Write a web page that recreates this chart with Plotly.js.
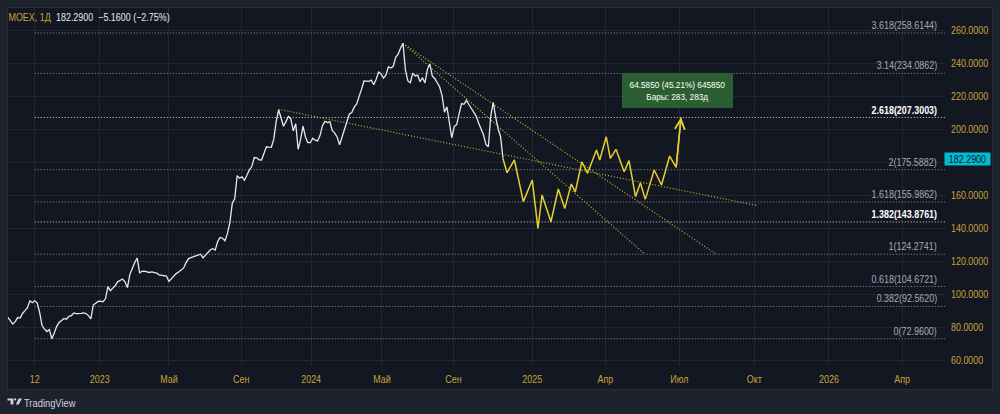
<!DOCTYPE html>
<html><head><meta charset="utf-8">
<script src="https://cdn.plot.ly/plotly-3.0.1.min.js"></script>
<style>
html,body{margin:0;padding:0;background:#1e222d;width:1000px;height:414px;overflow:hidden}
#frame{position:absolute;left:7px;top:7px;width:986px;height:383px;box-sizing:border-box;border:1px solid #2a2e39;background:#131722}
#chart{position:absolute;left:0;top:0;width:1000px;height:414px}
</style></head><body><div id="frame"></div><div id="chart"></div>
<script>
// ---------------- data ----------------
const symbol = 'MOEX, 1Д';
const lastClose = 182.29, change = -5.16, changePct = -2.75;
const lastBarDate = '2024-11-26';
const barsPerPoint = 3; // one point every 3 trading days, counted back from the last bar

const histClose = [
 87.0,85.8,84.0,81.9,83.3,85.8,85.5,88.3,90.0,91.8,
 96.0,94.8,96.0,94.8,89.0,81.0,78.8,77.3,78.5,72.96,
 76.5,80.5,82.8,84.2,85.3,84.8,86.5,87.0,88.6,88.2,
 88.1,88.4,88.7,88.3,87.0,85.0,93.4,94.7,95.6,95.8,
 95.4,97.2,104.6,102.1,103.5,105.2,107.5,108.3,109.2,107.5,
 104.0,112.0,115.8,119.2,122.0,113.0,113.8,114.0,113.6,113.2,
 113.6,113.2,112.8,111.8,111.4,111.2,111.0,107.8,109.5,111.0,
 112.5,113.5,114.5,115.8,119.0,121.5,122.2,122.7,123.3,124.0,
 124.3,122.0,123.6,125.5,127.0,127.6,126.8,132.0,134.4,134.0,
 132.5,136.8,143.5,155.2,158.0,172.0,170.5,171.3,169.2,172.2,
 175.5,177.5,183.0,182.8,181.6,181.5,185.0,189.5,189.3,189.2,
 194.0,205.0,212.0,207.5,202.0,204.8,208.0,206.5,199.2,203.6,
 188.0,194.0,202.0,195.5,192.0,192.0,194.7,193.5,193.0,196.5,
 202.5,204.9,204.2,204.8,199.5,197.8,195.5,190.8,195.5,200.5,
 205.0,209.4,210.3,213.6,215.5,219.6,224.5,229.5,229.5,229.3,
 230.0,227.2,230.5,234.9,233.8,231.2,233.2,238.0,237.4,238.4,
 243.8,245.7,249.5,252.3,236.0,229.5,228.5,234.2,232.5,233.0,
 229.0,231.5,228.3,236.5,239.8,232.6,231.0,228.0,226.0,220.8,
 210.5,213.8,205.0,195.0,201.8,203.0,209.5,215.8,215.3,217.7,
 215.2,213.0,210.5,208.2,204.0,200.5,196.8,191.0,189.5,208.5,
 216.5,207.5,200.5,195.8,182.29
];

// drawn projection path (yellow)
const projDates = ['2024-11-26','2024-12-01','2024-12-10','2024-12-21','2025-01-01','2025-01-08','2025-01-13',
 '2025-01-24','2025-02-02','2025-02-10','2025-02-18','2025-02-23','2025-03-03','2025-03-10','2025-03-21',
 '2025-03-25','2025-04-02','2025-04-07','2025-04-14','2025-04-24','2025-04-30','2025-05-08','2025-05-14',
 '2025-05-20','2025-05-31','2025-06-09','2025-06-19','2025-06-27','2025-07-03'];
const projPrices = [182.29,173.8,181.5,156.2,169.3,140.0,160.2,144.0,163.9,152.1,166.9,162.2,180.4,173.4,187.6,
 181.5,195.6,182.5,188.0,174.4,181.1,159.2,167.7,157.6,175.4,166.3,183.9,177.0,207.4];

// fibonacci extension
const fibRatios = ['0','0.382','0.618','1','1.382','1.618','2','2.618','3.14','3.618'];
const fibPrices = [72.96,92.562,104.6721,124.2741,143.8761,155.9862,175.5882,207.3003,234.0862,258.6144];
const fibHighlighted = ['1.382','2.618'];
const fibStart = '2022-09-12';
const fibEnd = '2027-01-01';

// dotted trend lines
const trendStartDates = ['2023-11-06','2024-06-06','2024-06-06'];
const trendStartPrices = [212.3,252.3,252.3];
const trendEndDates = ['2025-10-04','2025-05-18','2025-08-15'];
const trendEndPrices = [153.9,125.0,124.4];

// measure label
const measureLines = ['64.5850 (45.21%) 645850','Бары: 283, 283д'];

// axes
const tickDates = ['2022-09-12','2023-01-02','2023-05-01','2023-09-01','2024-01-01','2024-05-01','2024-09-02',
 '2025-01-01','2025-04-01','2025-07-01','2025-10-01','2026-01-01','2026-04-01'];
const tickLabels = ['12','2023','Май','Сен','2024','Май','Сен','2025','Апр','Июл','Окт','2026','Апр'];
const priceTicks = [60,80,100,120,140,160,180,200,220,240,260];

// ---------------- helpers ----------------
function parseD(s){const p=s.split('-').map(Number);return new Date(Date.UTC(p[0],p[1]-1,p[2]));}
function fmt(d){return d.toISOString().slice(0,10);}
function shiftWeekdays(s,n){
  const d=parseD(s); let left=Math.abs(n); const st=n<0?-1:1;
  while(left>0){d.setUTCDate(d.getUTCDate()+st);const w=d.getUTCDay();if(w!==0&&w!==6)left--;}
  return fmt(d);
}
const N = histClose.length;
const histDates = histClose.map((_,k)=>shiftWeekdays(lastBarDate,-(N-1-k)*barsPerPoint));

// weekends without trading (history only)
const breaks=[];
{const d=parseD('2022-06-04');const end=parseD(lastBarDate);
 while(d<end){breaks.push(fmt(d));d.setUTCDate(d.getUTCDate()+7);}}

const GOLD='#c9a23a', FONT='Liberation Sans, Arial, sans-serif', FS=10, SQUEEZE=0.85;
const YEL='#e3cf2f', YELDOT='#d6c22e';
const DOTS='1px,2px';

const traces=[];
fibPrices.forEach((p,i)=>{
  const hl=fibHighlighted.includes(fibRatios[i]);
  traces.push({x:[fibStart,fibEnd],y:[p,p],mode:'lines',type:'scatter',
    line:{color:hl?'rgba(235,235,238,0.9)':'rgba(175,177,185,0.8)',width:1,dash:DOTS},hoverinfo:'skip'});
});
trendStartDates.forEach((d,i)=>{
  traces.push({x:[d,trendEndDates[i]],y:[trendStartPrices[i],trendEndPrices[i]],mode:'lines',type:'scatter',
    line:{color:YELDOT,width:1.1,dash:DOTS},hoverinfo:'skip'});
});
traces.push({x:histDates,y:histClose,mode:'lines',type:'scatter',line:{color:'#e8e8ea',width:1.3},hoverinfo:'skip'});
traces.push({x:projDates,y:projPrices,mode:'lines',type:'scatter',line:{color:YEL,width:1.5},hoverinfo:'skip'});

// pixel helpers for layout decorations outside the plotting area
const L=8,R=945,T=8,B=366;
const px=x=>(x-L)/(R-L), py=y=>(B-y)/(B-T);

const annotations=[];
fibPrices.forEach((p,i)=>{
  const hl=fibHighlighted.includes(fibRatios[i]);
  annotations.push({xref:'paper',yref:'y',x:px(938),y:p,xanchor:'right',yanchor:'bottom',yshift:1,showarrow:false,align:'right',
    borderpad:0,text:(hl?'<b>':'')+fibRatios[i]+'('+p.toFixed(4)+')'+(hl?'</b>':''),
    font:{family:FONT,size:FS+0.5,color:hl?'#ffffff':'#a9abb3'}});
});
const nA=projDates.length;
annotations.push({x:projDates[nA-1],y:projPrices[nA-1],ax:projDates[nA-2],ay:projPrices[nA-2],axref:'x',ayref:'y',
  xref:'x',yref:'y',text:'',showarrow:true,arrowhead:5,arrowsize:1.3,arrowwidth:1.5,arrowcolor:YEL});
annotations.push({xref:'paper',yref:'paper',x:px(677.5),y:py(90.5),xanchor:'center',yanchor:'middle',
  text:measureLines.join('<br>'),showarrow:false,bgcolor:'#2b5f31',bordercolor:'#2b5f31',borderpad:2,
  width:105,height:29,font:{family:FONT,size:FS-0.3,color:'#ffffff'}});
annotations.push({xref:'paper',yref:'y',x:1,xshift:-1,y:lastClose,xanchor:'left',yanchor:'middle',showarrow:false,
  text:lastClose.toFixed(4),bgcolor:'#00bcd4',borderpad:1,width:43,height:10,font:{family:FONT,size:FS+0.5,color:'#131722'}});
const changeText=lastClose.toFixed(4)+'  '+(change<0?'\u2212':'+')+Math.abs(change).toFixed(4)+' ('+
  (changePct<0?'\u2212':'+')+Math.abs(changePct).toFixed(2)+'%)';
annotations.push({xref:'paper',yref:'paper',x:px(52),y:py(17),xanchor:'right',yanchor:'middle',showarrow:false,align:'right',
  borderpad:0,text:symbol,font:{family:FONT,size:FS+0.5,color:GOLD}});
annotations.push({xref:'paper',yref:'paper',x:px(55),y:py(17),xanchor:'left',yanchor:'middle',showarrow:false,align:'left',
  borderpad:0,text:changeText,font:{family:FONT,size:FS+0.5,color:'#e8e8ea'}});
annotations.push({xref:'paper',yref:'paper',x:px(22),y:py(402.5),xanchor:'left',yanchor:'middle',showarrow:false,align:'left',
  text:'TradingView',font:{family:FONT,size:FS+1,color:'#d1d4dc'}});

const P=(pts)=>'M'+pts.map(p=>px(p[0])+','+py(p[1])).join('L')+'Z';
const shapes=[
 {type:'path',xref:'paper',yref:'paper',path:P([[7.5,398.4],[13.4,398.4],[13.4,404.4],[10.6,404.4],[10.6,400.6],[7.5,400.6]]),fillcolor:'#d1d4dc',line:{width:0}},
 {type:'circle',xref:'paper',yref:'paper',x0:px(14.1),x1:px(16.3),y0:py(400.5),y1:py(398.3),fillcolor:'#d1d4dc',line:{width:0}},
 {type:'path',xref:'paper',yref:'paper',path:P([[18.6,398.4],[21.9,398.4],[18.7,404.4],[15.9,404.4]]),fillcolor:'#d1d4dc',line:{width:0}}
];

const layout={
  width:1000,height:414,margin:{l:L,r:1000-R,t:T,b:414-B,pad:0},
  paper_bgcolor:'rgba(0,0,0,0)',plot_bgcolor:'rgba(0,0,0,0)',showlegend:false,hovermode:false,
  font:{family:FONT,size:FS,color:GOLD},
  xaxis:{type:'date',range:['2022-07-27 02:24','2026-05-23 17:00'],
    rangebreaks:[{values:breaks,dvalue:2*86400000}],
    tickmode:'array',tickvals:tickDates,ticktext:tickLabels,showgrid:true,gridcolor:'#22262f',gridwidth:1,
    zeroline:false,showline:false,ticks:'',tickfont:{family:FONT,size:FS+0.5,color:GOLD},ticklabelstandoff:5,automargin:false},
  yaxis:{side:'right',range:[56.4,273.8],tickmode:'array',tickvals:priceTicks,
    ticktext:priceTicks.map(v=>Math.abs(v-lastClose)<8?'':v.toFixed(4)),showgrid:true,
    gridcolor:'#22262f',gridwidth:1,zeroline:false,showline:false,ticks:'',tickfont:{family:FONT,size:FS+0.5,color:GOLD},
    ticklabelstandoff:5,automargin:false},
  annotations:annotations,shapes:shapes
};
Plotly.newPlot('chart',traces,layout,{staticPlot:true,displayModeBar:false}).then(gd=>{
  // the reference uses a narrow face: squeeze every label horizontally around its anchor
  gd.querySelectorAll('svg text').forEach(t=>{
    const lines=t.querySelectorAll('tspan.line');
    const els=lines.length?Array.from(lines):[t];
    els.forEach(e=>{const len=e.getComputedTextLength();
      if(len>0){e.setAttribute('textLength',(len*SQUEEZE).toFixed(2));e.setAttribute('lengthAdjust','spacingAndGlyphs');}});
  });
});
</script></body></html>
